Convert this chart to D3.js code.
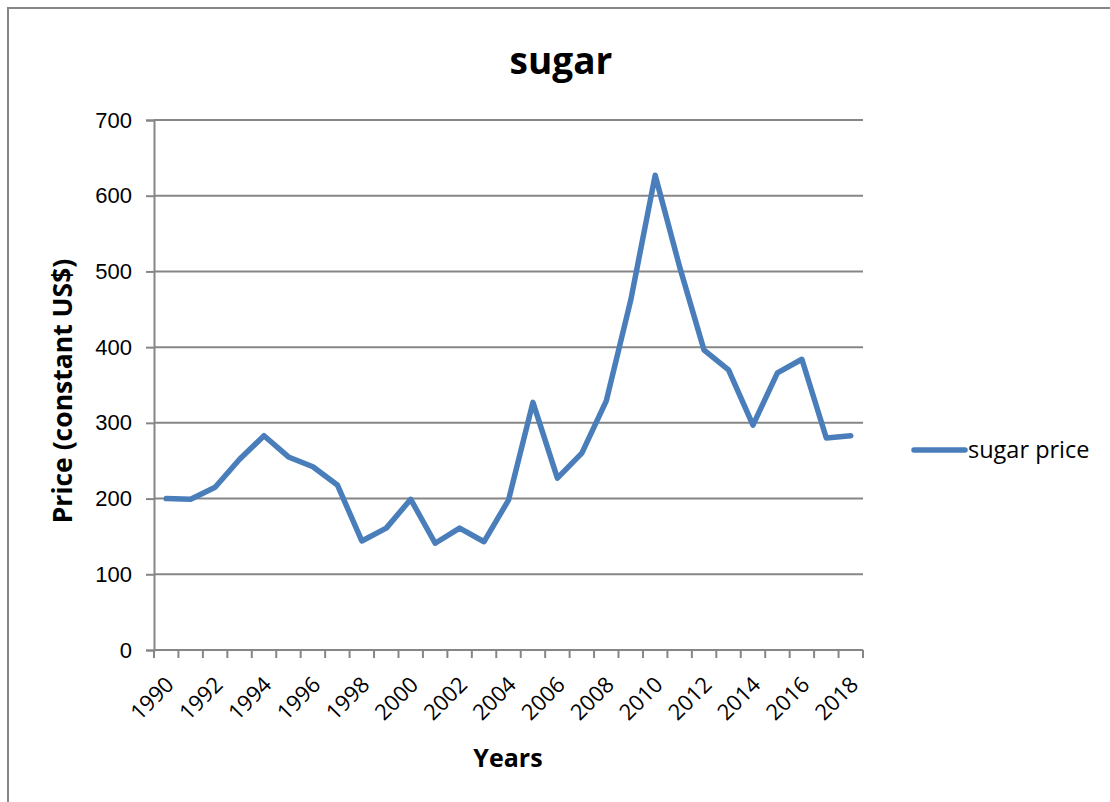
<!DOCTYPE html>
<html>
<head>
<meta charset="utf-8">
<script src="https://cdn.jsdelivr.net/npm/d3@7"></script>
<style>
  body { margin: 0; background: #fff; }
  svg { display: block; }
</style>
</head>
<body>
<div id="chart"></div>
<script>
// data
const years = d3.range(1990, 2019);
const sugarPrice = [200, 199, 215, 252, 283, 255, 242, 218, 144, 161, 199, 141, 161, 143, 198,
                    327, 227, 260, 329, 462, 627, 506, 396, 370, 297, 366, 384, 280, 283];
const yTicks = [0, 100, 200, 300, 400, 500, 600, 700];
const xLabels = years.filter(y => (y - 1990) % 2 === 0);

const W = 1110, H = 802;
const margin = {top: 120, right: 247, bottom: 152, left: 154};
const font = "Open Sans, sans-serif";

const svg = d3.select("#chart").append("svg")
    .attr("width", W).attr("height", H);

// chart frame (runs off the right and bottom edges)
svg.append("rect")
    .attr("x", 8).attr("y", 8)
    .attr("width", W + 20).attr("height", H + 20)
    .attr("fill", "none")
    .attr("stroke", "#868686")
    .attr("stroke-width", 2);

const x = d3.scaleBand()
    .domain(years)
    .range([margin.left, W - margin.right]);

const y = d3.scaleLinear()
    .domain([0, 700])
    .range([H - margin.bottom, margin.top]);

// gridlines
svg.append("g")
    .selectAll("line")
    .data(yTicks.filter(d => d > 0))
    .join("line")
    .attr("x1", margin.left).attr("x2", W - margin.right)
    .attr("y1", d => y(d)).attr("y2", d => y(d))
    .attr("stroke", "#868686")
    .attr("stroke-width", 2);

// y axis
const yAxis = svg.append("g")
    .attr("transform", "translate(" + margin.left + ",0)")
    .call(d3.axisLeft(y).tickValues(yTicks).tickSize(8).tickPadding(14));
yAxis.select(".domain").attr("stroke", "#868686").attr("stroke-width", 2);
yAxis.selectAll(".tick line").attr("stroke", "#868686").attr("stroke-width", 2);
yAxis.selectAll(".tick text")
    .attr("font-family", "Liberation Sans, Arial, sans-serif")
    .attr("font-size", 22)
    .attr("fill", "#000");

// x axis: ticks between categories
const bounds = years.map(d => x(d)).concat([x(years[years.length - 1]) + x.bandwidth()]);
const xg = svg.append("g");
xg.append("line")
    .attr("x1", margin.left).attr("x2", W - margin.right)
    .attr("y1", y(0)).attr("y2", y(0))
    .attr("stroke", "#868686").attr("stroke-width", 2);
xg.selectAll(".tk")
    .data(bounds)
    .join("line")
    .attr("class", "tk")
    .attr("x1", d => d).attr("x2", d => d)
    .attr("y1", y(0)).attr("y2", y(0) + 8)
    .attr("stroke", "#868686").attr("stroke-width", 2);
xg.selectAll("text")
    .data(xLabels)
    .join("text")
    .attr("transform", d => "translate(" + (x(d) + x.bandwidth() / 2 + 9) + "," + (y(0) + 36) + ") rotate(-45)")
    .attr("text-anchor", "end")
    .attr("font-family", font)
    .attr("font-size", 22)
    .attr("fill", "#000")
    .text(d => d);

// the line
svg.append("path")
    .datum(sugarPrice)
    .attr("fill", "none")
    .attr("stroke", "#4a7ebb")
    .attr("stroke-width", 5.5)
    .attr("stroke-linejoin", "round")
    .attr("stroke-linecap", "round")
    .attr("d", d3.line()
        .x((d, i) => x(years[i]) + x.bandwidth() / 2)
        .y(d => y(d)));

// title
svg.append("text")
    .attr("x", 561).attr("y", 74)
    .attr("text-anchor", "middle")
    .attr("font-family", font)
    .attr("font-weight", 700)
    .attr("font-size", 37)
    .text("sugar");

// axis titles
svg.append("text")
    .attr("transform", "translate(72," + 391 + ") rotate(-90)")
    .attr("text-anchor", "middle")
    .attr("font-family", font)
    .attr("font-weight", 700)
    .attr("font-size", 26.5)
    .text("Price (constant US$)");

svg.append("text")
    .attr("x", 508).attr("y", 767)
    .attr("text-anchor", "middle")
    .attr("font-family", font)
    .attr("font-weight", 700)
    .attr("font-size", 25)
    .text("Years");

// legend
svg.append("line")
    .attr("x1", 914).attr("x2", 965)
    .attr("y1", 450).attr("y2", 450)
    .attr("stroke", "#4a7ebb")
    .attr("stroke-width", 5.5)
    .attr("stroke-linecap", "round");
svg.append("text")
    .attr("x", 968).attr("y", 458)
    .attr("font-family", font)
    .attr("font-size", 23.5)
    .text("sugar price");
</script>
</body>
</html>
